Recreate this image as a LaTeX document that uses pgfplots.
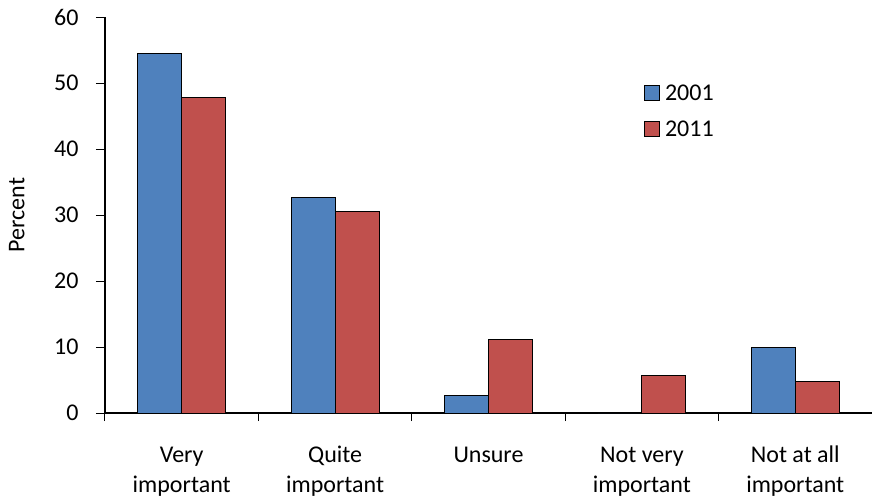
\documentclass[border=0pt]{standalone}
\usepackage{pgfplots}
\pgfplotsset{compat=1.18}
\usepackage{fontspec}
\setmainfont{Carlito}
\definecolor{cblue}{HTML}{4F81BD}
\definecolor{cred}{HTML}{C0504D}
\begin{document}
\begin{tikzpicture}
\begin{axis}[
  scale only axis,
  width=767bp, height=396bp,
  at={(0,0)}, anchor=south west,
  ybar=0pt, bar width=44bp,
  ymin=0, ymax=60, ytick={0,10,...,60},
  xmin=-0.5, xmax=4.5,
  xtick={0,1,2,3,4},
  xticklabels={{\strut Very\\\strut important},{\strut Quite\\\strut important},{\strut Unsure},{\strut Not very\\\strut important},{\strut Not at all\\\strut important}},
  minor xtick={-0.5,0.5,1.5,2.5,3.5},
  major x tick style={draw=none},
  minor tick length=8bp,
  major tick length=9bp,
  tick align=outside,
  tick style={black, line width=1bp},
  axis x line*=bottom, axis y line*=left,
  x axis line style={line width=2.2bp, -},
  y axis line style={line width=1.5bp, -},
  /pgf/number format/assume math mode=true,
  font=\fontsize{24bp}{30bp}\selectfont,
  ticklabel style={font=\fontsize{24bp}{30bp}\selectfont},
  xticklabel style={align=center, anchor=north, inner sep=0pt, yshift=-19bp},
  yticklabel style={xshift=-14bp},
  ylabel={Percent},
  ylabel style={at={(axis description cs:-0.115,0.5)}, anchor=center},
  legend style={draw=none, fill=none, at={(axis description cs:0.698,0.84)}, anchor=north west,
    font=\fontsize{24bp}{30bp}\selectfont, row sep=15bp},
  legend cell align=left,
  legend image code/.code={\path[draw=none, fill=none] (0bp,0bp) -- (19bp,0bp); \draw[#1, draw=black, line width=1bp] (0bp,-7.5bp) rectangle (15bp,7.5bp);},
]
\addplot[fill=cblue, draw=black, line width=1bp] coordinates {(0,54.5) (1,32.7) (2,2.6) (3,0) (4,9.85)};
\addplot[fill=cred, draw=black, line width=1bp] coordinates {(0,47.8) (1,30.6) (2,11.1) (3,5.7) (4,4.8)};
\legend{2001,2011}
\end{axis}
\pgfresetboundingbox
\path (-105bp,-89bp) rectangle (768bp,413bp);
\end{tikzpicture}
\end{document}
